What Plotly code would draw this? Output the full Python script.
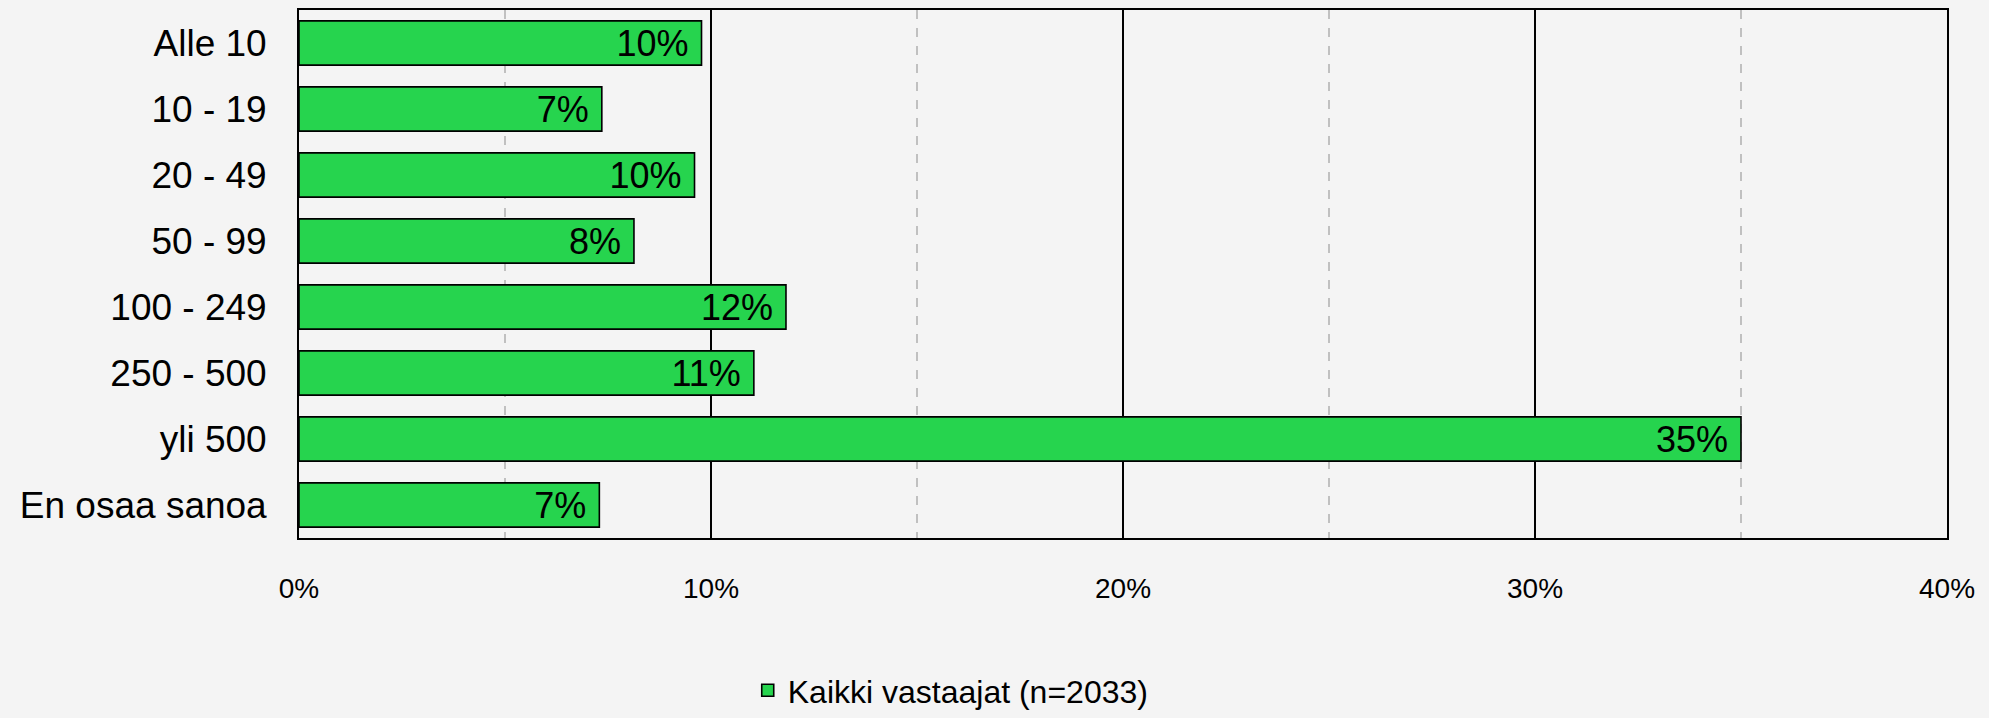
import plotly.graph_objects as go

categories = ["Alle 10", "10 - 19", "20 - 49", "50 - 99", "100 - 249", "250 - 500", "yli 500", "En osaa sanoa"]
values = [9.77, 7.35, 9.60, 8.13, 11.82, 11.04, 35.0, 7.29]
series_name = "Kaikki vastaajat (n=2033)"
x_ticks = [0, 10, 20, 30, 40]
x_tick_labels = ["0%", "10%", "20%", "30%", "40%"]

font = "Liberation Sans, Arial, sans-serif"
bg = "#f4f4f4"

fig = go.Figure()
fig.add_trace(go.Bar(
    y=categories,
    x=values,
    orientation="h",
    name=series_name,
    marker=dict(color="#26d44e", line=dict(color="#000000", width=1.6)),
    text=[f"{round(v):.0f}%\u00a0" for v in values],
    textposition="inside",
    insidetextanchor="end",
    constraintext="none",
    textfont=dict(family=font, size=36, color="#000000"),
    showlegend=True,
))

fig.update_layout(
    width=1989, height=718,
    paper_bgcolor=bg, plot_bgcolor=bg,
    margin=dict(l=299, r=42, t=10, b=180, autoexpand=False),
    bargap=0.33,
    font=dict(family=font, color="#000000"),
    legend=dict(
        orientation="h", xref="container", x=0.478, xanchor="center",
        yref="container", y=0.0, yanchor="bottom",
        font=dict(family=font, size=32, color="#000000"),
        bgcolor="rgba(0,0,0,0)", itemwidth=30,
    ),
    xaxis=dict(
        range=[0, 40], tickvals=x_ticks, ticktext=x_tick_labels,
        showgrid=True, gridcolor="#000000", gridwidth=1.5,
        minor=dict(dtick=5, showgrid=True, gridcolor="#c0c0c0", griddash="dash", gridwidth=1.5),
        showline=True, linecolor="#000000", linewidth=1.8, mirror=True,
        ticks="", ticklabelstandoff=24,
        tickfont=dict(family=font, size=28, color="#000000"),
        zeroline=False,
    ),
    yaxis=dict(
        autorange="reversed",
        showline=True, linecolor="#000000", linewidth=1.8, mirror=True,
        ticks="", ticklabelstandoff=23, showgrid=False,
        tickfont=dict(family=font, size=37, color="#000000"),
    ),
)

fig.write_html(
    "out.html",
    config={"displayModeBar": False},
    post_script="document.body.style.margin='0';document.body.style.background='#f4f4f4';",
)
